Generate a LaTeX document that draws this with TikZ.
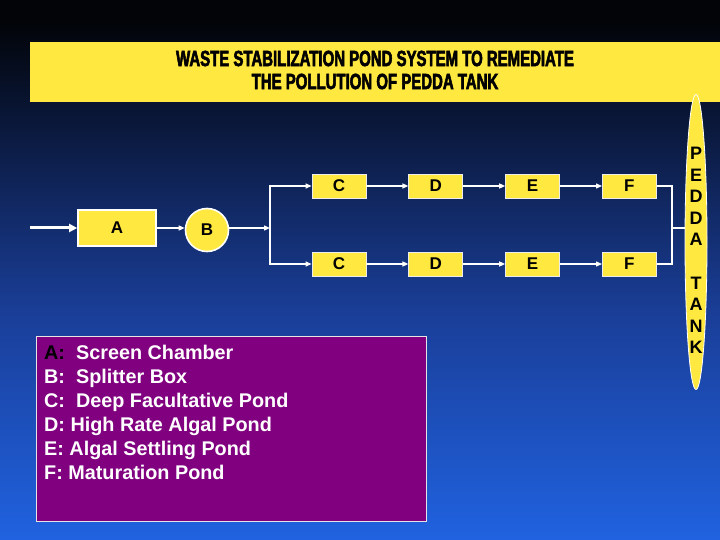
\documentclass[tikz,border=0pt]{standalone}
\usepackage{fontspec}
\setmainfont{Liberation Sans}
\newfontfamily\titlefont[FakeStretch=0.68,BoldFeatures={FakeBold=2.5}]{Liberation Sans}
\usetikzlibrary{arrows.meta,positioning,shapes.geometric}

\definecolor{pondyellow}{HTML}{FFE840}
\definecolor{legendpurple}{HTML}{800080}
\definecolor{skytop}{HTML}{020408}
\definecolor{skyhigh}{HTML}{0B1A40}
\definecolor{skymid}{HTML}{1A3E98}
\definecolor{skybot}{HTML}{2062E0}
\pgfdeclareverticalshading{nightsky}{100bp}{color(0bp)=(skybot); color(25bp)=(skybot);
  color(46bp)=(skymid); color(62.5bp)=(skyhigh); color(73bp)=(skytop); color(100bp)=(skytop)}

\begin{document}
\begin{tikzpicture}[
  x=1pt,y=-1pt,
  >={Triangle[length=6pt,width=5pt]},
  pond/.style={rectangle,draw=white!85!gray,line width=0.8pt,fill=pondyellow,
    minimum width=54pt,minimum height=24pt,inner sep=0pt,
    font=\fontsize{17}{17}\selectfont\bfseries},
  flow/.style={->,white,line width=1.2pt},
  pipe/.style={white,line width=1.2pt}
]
  \useasboundingbox (0,0) rectangle (720,540);
  \shade[shading=nightsky] (0,0) rectangle (720,540);

  % title banner
  \node[fill=pondyellow,minimum width=690pt,minimum height=60pt,anchor=north west,
    inner sep=0pt] (banner) at (30,42) {};
  \node[align=center,inner sep=0pt,font=\titlefont\fontsize{22}{23}\selectfont\bfseries]
    (title) at (375,70) {WASTE STABILIZATION POND SYSTEM TO REMEDIATE\\THE POLLUTION OF PEDDA TANK};

  % treatment train
  \coordinate (inlet) at (30,228);
  \node[pond,minimum width=78pt,minimum height=36pt,draw=white,line width=1.6pt] (A) at (117,228) {A};
  \node[circle,fill=pondyellow,draw=white,line width=1.6pt,minimum size=43pt,inner sep=0pt,
    font=\fontsize{17}{17}\selectfont\bfseries] (B) at (207,230) {B};
  \coordinate (split) at (270,228);

  \node[pond] (C1) at (339,186) {C};
  \node[pond,right=42pt of C1] (D1) {D};
  \node[pond,right=42pt of D1] (E1) {E};
  \node[pond,right=42pt of E1] (F1) {F};
  \node[pond] (C2) at (339,264) {C};
  \node[pond,right=42pt of C2] (D2) {D};
  \node[pond,right=42pt of D2] (E2) {E};
  \node[pond,right=42pt of E2] (F2) {F};
  \coordinate (merge) at (672,228);

  \node[ellipse,fill=pondyellow,draw=white,line width=0.8pt,minimum width=22pt,
    minimum height=295pt,inner sep=0pt] (tank) at (696,242) {};
  \node[align=center,inner sep=0pt,font=\fontsize{18}{21.6}\selectfont\bfseries]
    (tankname) at (696,250.5) {P\\E\\D\\D\\A\\[21.6pt]T\\A\\N\\K};

  \draw[flow,line width=3pt,-{Triangle[length=8pt,width=8pt]}] (inlet) -- (A.west);
  \draw[flow] (A.east) -- (A.east -| B.west);
  \draw[flow] (B.east |- split) -- (split);
  \draw[flow] (split) |- (C1.west);
  \draw[flow] (split) |- (C2.west);
  \draw[flow] (C1) -- (D1);
  \draw[flow] (D1) -- (E1);
  \draw[flow] (E1) -- (F1);
  \draw[flow] (C2) -- (D2);
  \draw[flow] (D2) -- (E2);
  \draw[flow] (E2) -- (F2);
  \draw[pipe] (F1.east) -| (merge) |- (F2.east);
  \draw[pipe] (merge) -- (merge -| tank.west);

  % legend
  \node[fill=legendpurple,draw=white!80!gray,line width=0.8pt,minimum width=390pt,
    minimum height=185pt,anchor=north west,inner sep=0pt] (legend) at (36,336) {};
  \node[anchor=north west,align=left,inner sep=0pt,text=white,
    font=\fontsize{19.8}{24}\selectfont\bfseries] (legendtext) at (44,345)
    {\textcolor{black}{A:}\ \ Screen Chamber\\B:\ \ Splitter Box\\C:\ \ Deep Facultative Pond\\
     D: High Rate Algal Pond\\E: Algal Settling Pond\\F: Maturation Pond};
\end{tikzpicture}
\end{document}
